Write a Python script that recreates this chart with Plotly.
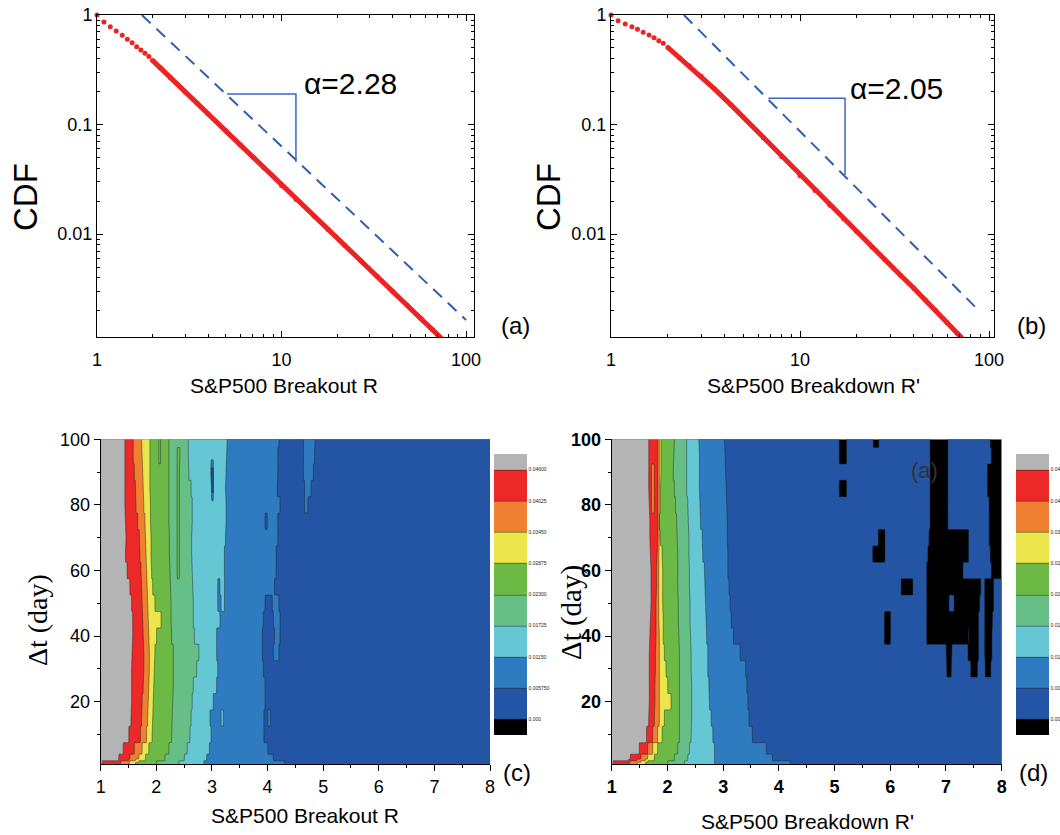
import numpy as np
import plotly.graph_objects as go

W, H = 1060, 835

# ---------------- panel (a): CDF of breakout R ----------------
A_R = [1.0, 1.09, 1.18, 1.27, 1.37, 1.46, 1.55, 1.64, 1.73, 1.82, 1.91, 2.0,
       2.2, 2.5, 3.0, 3.5, 4.0, 5.0, 6.0, 7.0, 8.0, 10, 12, 15, 18, 22, 27,
       33, 40, 48, 57, 66, 75]
A_CDF = [1.0, 0.863, 0.782, 0.714, 0.652, 0.600, 0.559, 0.514, 0.479, 0.447,
         0.417, 0.385, 0.330, 0.268, 0.1996, 0.1555, 0.1252, 0.0872, 0.0650,
         0.0506, 0.0405, 0.0278, 0.0207, 0.0146, 0.0109, 0.0079, 0.00568,
         0.0041, 0.0030, 0.00224, 0.00169, 0.00134, 0.00108]
A_FIT_R = [1.75, 100]
A_FIT_CDF = [1.0, 0.00164]
A_TRI_R = [5.07, 11.97, 11.97]
A_TRI_CDF = [0.19, 0.19, 0.0455]
A_ALPHA = "α=2.28"

# ---------------- panel (b): CDF of breakdown R' ----------------
B_R = [1.0, 1.09, 1.19, 1.29, 1.38, 1.48, 1.59, 1.69, 1.79, 1.89, 2.0,
       2.3, 2.6, 3.0, 3.5, 4.3, 5.0, 6.4, 8.0, 10, 12, 14.4, 17, 20, 24, 28,
       34, 40, 46, 52, 60, 68, 72]
B_CDF = [1.0, 0.887, 0.828, 0.782, 0.74, 0.695, 0.657, 0.621, 0.583, 0.551,
         0.505, 0.408, 0.342, 0.276, 0.214, 0.152, 0.117, 0.0757, 0.0507,
         0.0340, 0.0250, 0.0183, 0.0138, 0.0105, 0.0076, 0.0059, 0.0042,
         0.0032, 0.0025, 0.00201, 0.00155, 0.00124, 0.00112]
B_FIT_R = [2.43, 87.8]
B_FIT_CDF = [1.0, 0.00202]
B_TRI_R = [6.8, 17.3, 17.3]
B_TRI_CDF = [0.174, 0.174, 0.0346]
B_ALPHA = "α=2.05"

# ---------------- contour maps (c), (d) ----------------
LEVELS = [0.0, 0.00575, 0.0115, 0.01725, 0.023, 0.02875, 0.0345, 0.04025, 0.046]
LEVEL_LABELS = ["0.000", "0.005750", "0.01150", "0.01725", "0.02300",
                "0.02875", "0.03450", "0.04025", "0.04600"]
# band k lies between LEVELS[k-1] and LEVELS[k]; band 0 below 0, band 9 above 0.046
BAND_COLORS = ["#000000", "#2455a4", "#2f7bbf", "#64c7d3", "#66bf86",
               "#6cba45", "#ebe64b", "#f08031", "#ec2828", "#b4b4b4"]

DT_ROWS = [1, 3, 5, 10, 15, 20, 25, 30, 35, 40, 45, 50, 55, 60, 65, 70, 75,
           80, 85, 90, 95, 100]

# (band, R where band ends)
C_SEGMENTS = [
    [(9, 1.02), (8, 1.35), (7, 1.50), (6, 1.62), (5, 2.00), (4, 2.40), (3, 2.85), (2, 4.30), (1, 8)],
    [(9, 1.32), (8, 1.52), (7, 1.68), (6, 1.80), (5, 2.15), (4, 2.50), (3, 2.90), (2, 4.10), (1, 8)],
    [(9, 1.40), (8, 1.60), (7, 1.74), (6, 1.86), (5, 2.22), (4, 2.55), (3, 2.95), (2, 4.00), (1, 8)],
    [(9, 1.50), (8, 1.71), (7, 1.82), (6, 1.92), (5, 2.27), (4, 2.60), (3, 2.98), (2, 3.93), (1, 8)],
    [(9, 1.54), (8, 1.73), (7, 1.84), (6, 1.93), (5, 2.28), (4, 2.62), (3, 2.96), (2, 3.16), (3, 3.20), (2, 3.93), (1, 4.0), (2, 4.05), (1, 8)],
    [(9, 1.55), (8, 1.74), (7, 1.85), (6, 1.94), (5, 2.29), (4, 2.64), (3, 3.02), (2, 3.95), (1, 8)],
    [(9, 1.55), (8, 1.76), (7, 1.86), (6, 1.95), (5, 2.30), (4, 2.66), (3, 3.08), (2, 3.95), (1, 8)],
    [(9, 1.55), (8, 1.77), (7, 1.87), (6, 1.96), (5, 2.30), (4, 2.72), (3, 3.10), (2, 3.92), (1, 8)],
    [(9, 1.56), (8, 1.77), (7, 1.87), (6, 1.97), (5, 2.30), (4, 2.76), (3, 3.08), (2, 3.90), (1, 4.10), (2, 4.20), (1, 8)],
    [(9, 1.57), (8, 1.76), (7, 1.86), (6, 2.00), (5, 2.27), (4, 2.68), (3, 3.08), (2, 3.90), (1, 4.12), (2, 4.22), (1, 8)],
    [(9, 1.57), (8, 1.75), (7, 1.85), (6, 2.08), (5, 2.26), (4, 2.66), (3, 3.14), (2, 3.92), (1, 4.10), (2, 4.22), (1, 8)],
    [(9, 1.55), (8, 1.74), (7, 1.84), (6, 1.97), (5, 2.26), (4, 2.66), (3, 3.10), (2, 3.16), (3, 3.22), (2, 3.95), (1, 4.08), (2, 4.20), (1, 8)],
    [(9, 1.52), (8, 1.73), (7, 1.83), (6, 1.93), (5, 2.25), (4, 2.65), (3, 3.10), (2, 3.14), (3, 3.22), (2, 4.12), (1, 8)],
    [(9, 1.47), (8, 1.72), (7, 1.82), (6, 1.91), (5, 2.24), (4, 2.37), (5, 2.41), (4, 2.64), (3, 3.22), (2, 4.15), (1, 8)],
    [(9, 1.44), (8, 1.70), (7, 1.81), (6, 1.90), (5, 2.23), (4, 2.37), (5, 2.41), (4, 2.63), (3, 3.22), (2, 4.15), (1, 8)],
    [(9, 1.45), (8, 1.69), (7, 1.80), (6, 1.90), (5, 2.23), (4, 2.37), (5, 2.41), (4, 2.63), (3, 3.24), (2, 4.18), (1, 8)],
    [(9, 1.44), (8, 1.66), (7, 1.79), (6, 1.89), (5, 2.22), (4, 2.37), (5, 2.41), (4, 2.64), (3, 3.25), (2, 3.95), (1, 3.99), (2, 4.18), (1, 8)],
    [(9, 1.43), (8, 1.63), (7, 1.77), (6, 1.89), (5, 2.22), (4, 2.37), (5, 2.41), (4, 2.64), (3, 3.25), (2, 4.22), (1, 4.66), (2, 4.72), (1, 8)],
    [(9, 1.43), (8, 1.62), (7, 1.76), (6, 1.88), (5, 2.22), (4, 2.37), (5, 2.41), (4, 2.62), (3, 2.99), (1, 3.02), (3, 3.24), (2, 4.17), (1, 4.66), (2, 4.78), (1, 8)],
    [(9, 1.43), (8, 1.60), (7, 1.75), (6, 1.88), (5, 2.22), (4, 2.37), (5, 2.41), (4, 2.58), (3, 2.98), (1, 3.02), (3, 3.25), (2, 4.18), (1, 4.64), (2, 4.82), (1, 8)],
    [(9, 1.43), (8, 1.58), (7, 1.74), (6, 1.88), (5, 2.04), (4, 2.07), (5, 2.22), (4, 2.37), (5, 2.42), (4, 2.57), (3, 3.26), (2, 4.18), (1, 4.64), (2, 4.84), (1, 8)],
    [(9, 1.43), (8, 1.58), (7, 1.73), (6, 1.88), (5, 2.04), (4, 2.07), (5, 2.22), (4, 2.57), (3, 3.27), (2, 4.20), (1, 4.64), (2, 4.85), (1, 8)],
]

# (band, R where band ends)
D_SEGMENTS = [
    [(9, 1.02), (8, 1.30), (7, 1.45), (6, 1.60), (5, 2.00), (4, 2.30), (3, 2.84), (2, 4.20), (1, 8)],
    [(9, 1.33), (8, 1.52), (7, 1.64), (6, 1.76), (5, 2.12), (4, 2.36), (3, 2.84), (2, 3.88), (1, 8)],
    [(9, 1.49), (8, 1.64), (7, 1.73), (6, 1.82), (5, 2.18), (4, 2.39), (3, 2.84), (2, 3.77), (1, 8)],
    [(9, 1.62), (8, 1.73), (7, 1.82), (6, 1.90), (5, 2.21), (4, 2.42), (3, 2.81), (2, 3.52), (1, 8)],
    [(9, 1.66), (8, 1.76), (7, 1.85), (6, 1.94), (5, 2.21), (4, 2.43), (3, 2.78), (2, 3.46), (1, 8)],
    [(9, 1.67), (8, 1.77), (7, 1.85), (6, 2.06), (5, 2.21), (4, 2.43), (3, 2.75), (2, 3.44), (1, 8)],
    [(9, 1.67), (8, 1.77), (7, 1.85), (6, 2.00), (5, 2.21), (4, 2.43), (3, 2.74), (2, 3.42), (1, 8)],
    [(9, 1.67), (8, 1.78), (7, 1.85), (6, 1.97), (5, 2.21), (4, 2.42), (3, 2.72), (2, 3.40), (1, 8)],
    [(9, 1.67), (8, 1.78), (7, 1.85), (6, 1.94), (5, 2.21), (4, 2.42), (3, 2.72), (2, 3.30), (1, 8)],
    [(9, 1.68), (8, 1.79), (7, 1.85), (6, 1.92), (5, 2.20), (4, 2.41), (3, 2.70), (2, 3.18), (1, 8)],
    [(9, 1.69), (8, 1.79), (7, 1.84), (6, 1.92), (5, 2.19), (4, 2.40), (3, 2.69), (2, 3.14), (1, 8)],
    [(9, 1.70), (8, 1.79), (7, 1.84), (6, 1.91), (5, 2.19), (4, 2.40), (3, 2.68), (2, 3.12), (1, 8)],
    [(9, 1.70), (8, 1.80), (7, 1.84), (6, 1.91), (5, 2.18), (4, 2.39), (3, 2.67), (2, 3.10), (1, 8)],
    [(9, 1.70), (8, 1.80), (7, 1.84), (6, 1.91), (5, 2.18), (4, 2.39), (3, 2.66), (2, 3.08), (1, 8)],
    [(9, 1.69), (8, 1.81), (7, 1.84), (6, 1.90), (5, 2.18), (4, 2.38), (3, 2.63), (2, 3.08), (1, 8)],
    [(9, 1.68), (8, 1.82), (7, 1.85), (6, 1.87), (5, 2.17), (4, 2.38), (3, 2.62), (2, 3.07), (1, 8)],
    [(9, 1.68), (8, 1.82), (7, 1.85), (5, 2.16), (4, 2.37), (3, 2.59), (2, 3.07), (1, 8)],
    [(9, 1.67), (8, 1.71), (7, 1.76), (8, 1.82), (7, 1.85), (6, 1.87), (5, 2.14), (4, 2.36), (3, 2.58), (2, 3.06), (1, 8)],
    [(9, 1.66), (8, 1.71), (7, 1.76), (8, 1.82), (7, 1.85), (6, 1.87), (5, 2.12), (4, 2.34), (3, 2.57), (2, 3.05), (1, 8)],
    [(9, 1.66), (8, 1.71), (7, 1.76), (8, 1.82), (7, 1.85), (6, 1.88), (5, 2.10), (4, 2.34), (3, 2.57), (2, 3.04), (1, 8)],
    [(9, 1.66), (8, 1.82), (7, 1.85), (6, 1.88), (5, 2.11), (4, 2.34), (3, 2.57), (2, 3.03), (1, 8)],
    [(9, 1.66), (8, 1.82), (7, 1.85), (6, 1.88), (5, 2.12), (4, 2.34), (3, 2.56), (2, 3.02), (1, 8)],
]

# black (below 0.000) patches in panel (d): Δt row -> R intervals
D_BLACK = {
    100: [(5.09, 5.21), (5.70, 5.79), (6.72, 7.03), (7.80, 8.0)],
    95: [(5.09, 5.21), (6.72, 7.03), (7.82, 8.0)],
    90: [(6.72, 7.03), (7.75, 8.0)],
    85: [(5.09, 5.21), (6.72, 7.03), (7.75, 8.0)],
    80: [(6.72, 7.03), (7.78, 8.0)],
    75: [(6.72, 7.03), (7.78, 8.0)],
    70: [(5.79, 5.90), (6.70, 7.40), (7.78, 8.0)],
    65: [(5.69, 5.90), (6.68, 7.40), (7.80, 8.0)],
    60: [(6.66, 7.30), (7.82, 8.0)],
    55: [(6.20, 6.40), (6.66, 7.62), (7.70, 7.85)],
    50: [(6.66, 7.05), (7.15, 7.60), (7.70, 7.85)],
    45: [(5.90, 6.0), (6.66, 7.58), (7.70, 7.83)],
    40: [(5.90, 6.0), (6.66, 7.40), (7.42, 7.58), (7.70, 7.82)],
    35: [(7.01, 7.10), (7.40, 7.58), (7.70, 7.82)],
    30: [(7.02, 7.09), (7.45, 7.56), (7.71, 7.80)],
}

R_GRID = np.round(np.arange(1.0, 8.0001, 0.01), 2)
HALF = 0.00575 / 2
BAND_VALUE = [LEVELS[0] - HALF] + [lv + HALF for lv in LEVELS]


def build_field(segments, black=None):
    z = []
    for dt, segs in zip(DT_ROWS, segments):
        row = []
        for r in R_GRID:
            band = segs[-1][0]
            for b, r_end in segs:
                if r <= r_end + 1e-9:
                    band = b
                    break
            if black and dt in black:
                for r0, r1 in black[dt]:
                    if r0 - 1e-9 <= r <= r1 + 1e-9:
                        band = 0
            row.append(BAND_VALUE[band])
        z.append(row)
    return z


Z_C = build_field(C_SEGMENTS)
Z_D = build_field(D_SEGMENTS, D_BLACK)

# ---------------- helpers ----------------
def px(x):
    return x / W


def py(y):
    return 1 - y / H


FONT = "Arial, Liberation Sans, sans-serif"
RED = "#ee2222"
BLUE = "#2f5fb3"
TRI = "#3a66cc"

colorscale = [[i / 9, c] for i, c in enumerate(BAND_COLORS)]

fig = go.Figure()

# (a)
fig.add_trace(go.Scatter(x=A_R[11:], y=A_CDF[11:], mode="lines", xaxis="x", yaxis="y",
                         line=dict(color=RED, width=5), showlegend=False))
fig.add_trace(go.Scatter(x=A_R, y=A_CDF, mode="markers", xaxis="x", yaxis="y",
                         marker=dict(color=RED, size=5), cliponaxis=False, showlegend=False))
fig.add_trace(go.Scatter(x=A_FIT_R, y=A_FIT_CDF, mode="lines", xaxis="x", yaxis="y",
                         line=dict(color=BLUE, width=2, dash="12px,8px"), showlegend=False))
fig.add_trace(go.Scatter(x=A_TRI_R, y=A_TRI_CDF, mode="lines", xaxis="x", yaxis="y",
                         line=dict(color=TRI, width=1.5), showlegend=False))

# (b)
fig.add_trace(go.Scatter(x=B_R[10:], y=B_CDF[10:], mode="lines", xaxis="x2", yaxis="y2",
                         line=dict(color=RED, width=5), showlegend=False))
fig.add_trace(go.Scatter(x=B_R[:-1], y=B_CDF[:-1], mode="markers", xaxis="x2", yaxis="y2",
                         marker=dict(color=RED, size=5), cliponaxis=False, showlegend=False))
fig.add_trace(go.Scatter(x=B_FIT_R, y=B_FIT_CDF, mode="lines", xaxis="x2", yaxis="y2",
                         line=dict(color=BLUE, width=2, dash="12px,8px"), showlegend=False))
fig.add_trace(go.Scatter(x=B_TRI_R, y=B_TRI_CDF, mode="lines", xaxis="x2", yaxis="y2",
                         line=dict(color=TRI, width=1.5), showlegend=False))


def cbar(x_left):
    return dict(x=px(x_left), xanchor="left", xref="paper", xpad=0,
                y=py(594.5), yanchor="middle", ypad=0,
                len=281 / H, lenmode="fraction", thickness=33, thicknessmode="pixels",
                outlinewidth=0, tickvals=LEVELS, ticktext=LEVEL_LABELS,
                ticks="", tickfont=dict(size=5, color="#222", family=FONT))


contour_common = dict(
    x=R_GRID, y=DT_ROWS, colorscale=colorscale, autocontour=False,
    contours=dict(start=0.0, end=0.0461, size=0.00575, coloring="fill", showlines=True),
    line=dict(color="rgba(30,30,30,0.75)", width=0.6, smoothing=0.6),
    hoverinfo="skip",
)
fig.add_trace(go.Contour(z=Z_C, xaxis="x3", yaxis="y3", colorbar=cbar(494), **contour_common))
fig.add_trace(go.Contour(z=Z_D, xaxis="x4", yaxis="y4", colorbar=cbar(1016), **contour_common))

tickfont = dict(family=FONT, size=18, color="black")
log_common = dict(type="log", showgrid=False, zeroline=False, showline=True, linecolor="black",
                  linewidth=1, mirror="ticks", ticks="inside", ticklen=6, tickwidth=1,
                  tickcolor="black", tickfont=tickfont,
                  minor=dict(ticks="inside", ticklen=3, tickwidth=1, dtick="D1", tickcolor="black"))

fig.update_layout(
    width=W, height=H, margin=dict(l=0, r=0, t=0, b=0, autoexpand=False),
    paper_bgcolor="white", plot_bgcolor="white", showlegend=False,
    font=dict(family=FONT, color="black"),
    xaxis=dict(domain=[px(97), px(474)], anchor="y", range=[0, 2.043],
               tickvals=[1, 10, 100], ticktext=["1", "10", "100"], ticklabelstandoff=6, **log_common),
    yaxis=dict(domain=[py(337), py(15)], anchor="x", range=[-2.94, 0.0],
               tickvals=[1, 0.1, 0.01], ticktext=["1", "0.1", "0.01"], **log_common),
    xaxis2=dict(domain=[px(611), px(994)], anchor="y2", range=[0, 2.026],
                tickvals=[1, 10, 100], ticktext=["1", "10", "100"], ticklabelstandoff=6, **log_common),
    yaxis2=dict(domain=[py(337), py(15)], anchor="x2", range=[-2.94, 0.0],
                tickvals=[1, 0.1, 0.01], ticktext=["1", "0.1", "0.01"], **log_common),
)

lin_common = dict(showgrid=False, zeroline=False, showline=True, linecolor="black", linewidth=1,
                  mirror=False, ticks="outside", ticklen=6, tickwidth=1, tickcolor="black")
boldfont = dict(family=FONT, size=18, color="black", weight="bold")
fig.update_layout(
    xaxis3=dict(domain=[px(100.7), px(490)], anchor="y3", range=[1, 8], dtick=1, tick0=0,
                tickfont=tickfont, minor=dict(ticks="outside", ticklen=3, dtick=0.5, tick0=0),
                **lin_common),
    yaxis3=dict(domain=[py(764), py(439.3)], anchor="x3", range=[1, 100],
                tickvals=[20, 40, 60, 80, 100], tickfont=tickfont,
                minor=dict(ticks="outside", ticklen=3, dtick=10, tick0=0), **lin_common),
    xaxis4=dict(domain=[px(611.7), px(1001.7)], anchor="y4", range=[1, 8], dtick=1, tick0=0,
                tickfont=boldfont,
                minor=dict(ticks="outside", ticklen=3, dtick=0.5, tick0=0), **lin_common),
    yaxis4=dict(domain=[py(764), py(439.3)], anchor="x4", range=[1, 100],
                tickvals=[20, 40, 60, 80, 100], tickfont=boldfont,
                minor=dict(ticks="outside", ticklen=3, dtick=10, tick0=0), **lin_common),
)

ann = []


def label(text, x, y, size, angle=0, family=FONT, color="black"):
    ann.append(dict(text=text, x=px(x), y=py(y), xref="paper", yref="paper",
                    showarrow=False, textangle=angle, xanchor="center", yanchor="middle",
                    font=dict(family=family, size=size, color=color)))


SERIF = "Liberation Serif, Times New Roman, serif"
label("CDF", 25, 197, 33, -90)
label("CDF", 548, 197, 33, -90)
label("S&P500 Breakout R", 284, 385, 21)
label("S&P500 Breakdown R'", 813, 385, 21)
label("(a)", 515, 325, 24)
label("(b)", 1031, 325, 24)
label("Δt (day)", 37, 620, 28, -90, family=SERIF)
label("Δt (day)", 571, 613, 29, -90, family=SERIF)
label("S&P500 Breakout R", 305, 815, 21)
label("S&P500 Breakdown R'", 807, 821, 21)
label("(c)", 517, 772, 24)
label("(d)", 1033, 772, 24)
label("(a)", 924, 470, 22, color="#333333")

# slope annotations in data coordinates
ann.append(dict(text=A_ALPHA, x=np.log10(12.9), y=np.log10(0.239), xref="x", yref="y",
                showarrow=False, xanchor="left", yanchor="middle",
                font=dict(family=FONT, size=30, color="black")))
ann.append(dict(text=B_ALPHA, x=np.log10(17.9), y=np.log10(0.215), xref="x2", yref="y2",
                showarrow=False, xanchor="left", yanchor="middle",
                font=dict(family=FONT, size=30, color="black")))
fig.update_layout(annotations=ann)

fig.write_html("out.html", config={"displayModeBar": False},
               post_script="document.body.style.margin='0';document.body.style.overflow='hidden';")
